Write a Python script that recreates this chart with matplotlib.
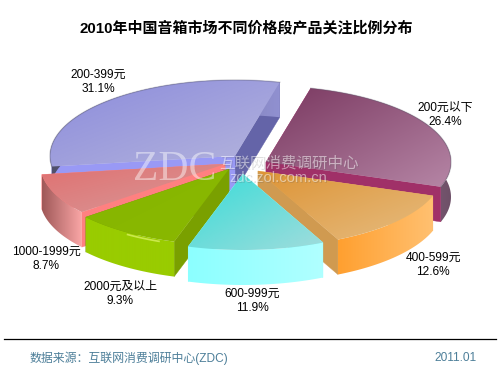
import numpy as np
import matplotlib
matplotlib.use("Agg")
import matplotlib.pyplot as plt
from matplotlib.colors import LinearSegmentedColormap
from matplotlib.patches import PathPatch, Polygon
from matplotlib.path import Path

plt.rcParams["font.family"] = ["Liberation Sans", "Noto Sans CJK SC"]

# 数据
categories = ["200元以下", "400-599元", "600-999元", "2000元及以上", "1000-1999元", "200-399元"]
values = [26.4, 12.6, 11.9, 9.3, 8.7, 31.1]

# 样式（像素坐标）
START_DEG = 14
RX, RY, DEPTH = 185, 76, 35
APEX = [(266, 162), (258, 171), (243, 174), (229, 169), (225, 164), (235, 156)]
DRAW_ORDER = [5, 0, 4, 1, 3, 2]
TOP_COL = [("#7a3860", "#b585a5"), ("#dd9436", "#e6bc80"), ("#38dcd8", "#a0dcdc"),
           ("#86b600", "#8ab800"), ("#e07070", "#d89a9a"), ("#8c8cdc", "#b4b4dc")]
WALL_COL = [("#b888a8", "#6e5068"), ("#ffa030", "#ffc070"), ("#8cffff", "#b0ffff"),
            ("#99cc00", "#99cc00"), ("#a05858", "#fca8a8"), ("#50506a", "#9090d0")]
FACE_START = ["#9c3068", "#f0b868", "#88ffff", "#7aa000", "#ff8080", "#9999f5"]
FACE_END = ["#a03068", "#d09a50", "#88ffff", "#7aa000", "#ff8080", "#6464a8"]
RIM = [True, False, False, False, False, True]
LABEL_XY = [(445, 115), (433, 265), (252, 301), (120, 294), (46, 259), (98, 82)]


def pt(apex, deg):
    a = np.radians(deg)
    return apex[0] + RX * np.sin(a), apex[1] - RY * np.cos(a)


def grad_fill(ax, verts, c0, c1, mode="diag"):
    verts = np.asarray(verts)
    patch = PathPatch(Path(np.vstack([verts, verts[0]]), closed=True), transform=ax.transData)
    x0, y0 = verts.min(axis=0)
    x1, y1 = verts.max(axis=0)
    u, v = np.meshgrid(np.linspace(0, 1, 60), np.linspace(0, 1, 60))
    z = {"diag": (u + v) / 2, "h": u}[mode]
    cmap = LinearSegmentedColormap.from_list("g", [c0, c1])
    im = ax.imshow(z, extent=(x0, x1, y1, y0), cmap=cmap, vmin=0, vmax=1,
                   aspect="auto", zorder=2, interpolation="bilinear")
    im.set_clip_path(patch)


fig = plt.figure(figsize=(5, 3.75), dpi=100)
ax = fig.add_axes([0, 0, 1, 1])

edges = START_DEG + np.concatenate([[0], np.cumsum(values)]) * 3.6

for i in DRAW_ORDER:
    apex = APEX[i]
    a0, a1 = edges[i], edges[i + 1]
    arc = np.array([pt(apex, d) for d in np.linspace(a0, a1, 80)])
    low = np.array([0, DEPTH])
    # 两个切面，靠前的后画
    faces = sorted(((arc[0], FACE_START[i]), (arc[-1], FACE_END[i])), key=lambda f: f[0][1])
    for corner, col in faces:
        face = [apex, corner, corner + low, np.array(apex) + low]
        ax.add_patch(Polygon(face, closed=True, fc=col, ec=col, lw=0.3, zorder=2))
    # 外壁
    wall = np.vstack([arc, (arc + low)[::-1]])
    grad_fill(ax, wall, WALL_COL[i][0], WALL_COL[i][1], "h")
    # 顶面
    top = np.vstack([[apex], arc])
    grad_fill(ax, top, TOP_COL[i][0], TOP_COL[i][1], "diag")
    if RIM[i]:
        ax.plot(arc[:, 0], arc[:, 1], color="#555566", lw=1.0, alpha=0.3, zorder=2)

# 绿色块高光
i = categories.index("2000元及以上")
hl = np.array([pt(APEX[i], d) for d in np.linspace(edges[i] + 5, edges[i] + 16, 20)])
ax.plot(hl[:, 0], hl[:, 1] + 2, color="#d8f060", lw=1.2, alpha=0.8, zorder=3)

# 水印
ax.text(133, 170, "ZDC", family="Liberation Serif", fontsize=30, color="white", alpha=0.45,
        va="center", ha="left", zorder=4)
for dx, col, alp in ((1, "#555555", 0.2), (0, "white", 0.5)):
    ax.text(219 + dx, 163 + dx, "互联网消费调研中心", family="Noto Sans CJK SC", fontsize=11.2,
            color=col, alpha=alp, va="center", ha="left", zorder=4)
    ax.text(229 + dx, 178 + dx, "zdc.zol.com.cn", fontsize=10.6, color=col, alpha=alp,
            va="center", ha="left", zorder=4)

# 标签
for name, val, (lx, ly) in zip(categories, values, LABEL_XY):
    ax.text(lx, ly, f"{name}\n{val}%", fontsize=8.6, color="black", ha="center", va="center",
            linespacing=1.2, zorder=5)

ax.text(246, 28, "2010年中国音箱市场不同价格段产品关注比例分布", fontsize=10.8, fontweight="bold",
        color="black", ha="center", va="center", zorder=5)

ax.plot([4, 496], [339, 339], color="black", lw=0.9, zorder=5)
ax.text(29, 358, "数据来源：互联网消费调研中心(ZDC)", fontsize=8.6, color="#4d7f99",
        ha="left", va="center", zorder=5)
ax.text(477, 358, "2011.01", fontsize=8.6, color="#4d7f99", ha="right", va="center", zorder=5)

ax.set_xlim(0, 500)
ax.set_ylim(375, 0)
ax.axis("off")

fig.savefig("out.png", dpi=100, facecolor="white")
